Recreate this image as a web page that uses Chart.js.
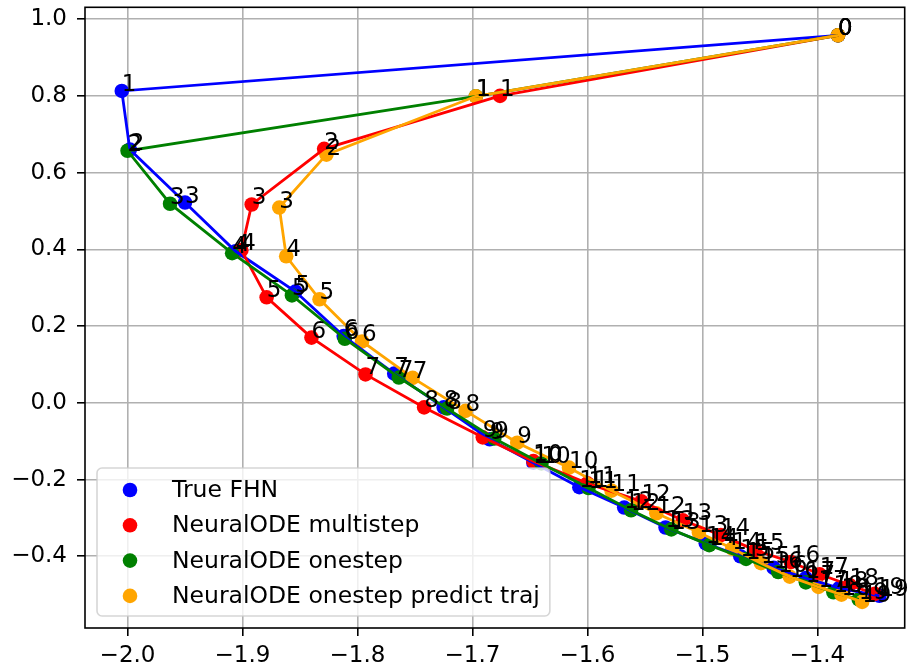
<!DOCTYPE html>
<html>
<head>
<meta charset="utf-8">
<script src="https://cdn.jsdelivr.net/npm/chart.js@4/dist/chart.umd.min.js"></script>
<style>
  html, body { margin: 0; padding: 0; background: #ffffff; }
  canvas { display: block; }
</style>
</head>
<body>
<canvas id="chart" width="912" height="671"></canvas>
<script>
// Series names and colours (legend order)
const seriesNames = ['True FHN', 'NeuralODE multistep', 'NeuralODE onestep', 'NeuralODE onestep predict traj'];
const seriesColors = ['#0000ff', '#ff0000', '#008000', '#ffa500'];

// True FitzHugh–Nagumo trajectory, steps 0..19
const trueX = [-1.382, -2.005, -1.998, -1.950, -1.906, -1.854, -1.812, -1.768, -1.725, -1.685,
               -1.647, -1.607, -1.568, -1.532, -1.497, -1.467, -1.438, -1.410, -1.381, -1.346];
const trueY = [0.958, 0.813, 0.660, 0.522, 0.395, 0.290, 0.174, 0.076, -0.012, -0.095,
               -0.156, -0.220, -0.273, -0.325, -0.366, -0.400, -0.430, -0.457, -0.483, -0.503];

// NeuralODE trained multistep
const multiX = [-1.382, -1.676, -1.829, -1.892, -1.901, -1.879, -1.840, -1.793, -1.742, -1.691,
                -1.647, -1.600, -1.553, -1.517, -1.484, -1.454, -1.423, -1.398, -1.372, -1.350];
const multiY = [0.958, 0.800, 0.662, 0.517, 0.398, 0.275, 0.170, 0.074, -0.012, -0.090,
                -0.152, -0.210, -0.257, -0.306, -0.345, -0.384, -0.415, -0.447, -0.475, -0.498];

// NeuralODE trained onestep
const oneX = [-1.382, -1.697, -2.000, -1.963, -1.909, -1.857, -1.811, -1.764, -1.722, -1.681,
              -1.640, -1.599, -1.562, -1.527, -1.494, -1.462, -1.434, -1.410, -1.386, -1.364];
const oneY = [0.958, 0.799, 0.657, 0.519, 0.390, 0.280, 0.167, 0.066, -0.015, -0.093,
              -0.158, -0.222, -0.280, -0.330, -0.371, -0.407, -0.441, -0.468, -0.494, -0.512];

// NeuralODE onestep, full predicted trajectory
const trajX = [-1.382, -1.697, -1.827, -1.868, -1.862, -1.833, -1.796, -1.752, -1.706, -1.661,
               -1.616, -1.579, -1.540, -1.503, -1.474, -1.449, -1.424, -1.399, -1.379, -1.361];
const trajY = [0.958, 0.799, 0.647, 0.509, 0.382, 0.270, 0.160, 0.065, -0.021, -0.104,
               -0.169, -0.229, -0.288, -0.338, -0.380, -0.418, -0.453, -0.480, -0.500, -0.519];

// Axis ticks and view limits
const xTicks = [-2.0, -1.9, -1.8, -1.7, -1.6, -1.5, -1.4];
const yTicks = [-0.4, -0.2, 0.0, 0.2, 0.4, 0.6, 0.8, 1.0];
const xLimits = [-2.037, -1.324];
const yLimits = [-0.587, 1.031];

const seriesX = [trueX, multiX, oneX, trajX];
const seriesY = [trueY, multiY, oneY, trajY];

const FONT = '"DejaVu Sans", "Liberation Sans", sans-serif';
const FONT_SIZE = 23;
const LEGEND_FONT_SIZE = 23.5;

const toPoints = (xs, ys) => xs.map((x, i) => ({ x: x, y: ys[i] }));
const fmtTick = v => (v < -1e-9 ? '\u2212' : '') + Math.abs(v).toFixed(1);

const datasets = [];
// markers first (under all lines)
seriesNames.forEach((name, k) => {
  datasets.push({
    label: name,
    data: toPoints(seriesX[k], seriesY[k]),
    showLine: false,
    pointRadius: 7.3,
    pointHoverRadius: 7.3,
    pointBackgroundColor: seriesColors[k],
    pointBorderWidth: 0,
    order: 10 - k
  });
});
// connecting lines
seriesNames.forEach((name, k) => {
  datasets.push({
    label: name + ' line',
    data: toPoints(seriesX[k], seriesY[k]),
    showLine: true,
    pointRadius: 0,
    pointHoverRadius: 0,
    borderColor: seriesColors[k],
    borderWidth: 2.8,
    fill: false,
    tension: 0,
    order: 4 - k
  });
});

// Frame around the plotting area
const frame = {
  id: 'frame',
  afterDatasetsDraw(chart) {
    const { ctx, chartArea: a } = chart;
    ctx.save();
    ctx.strokeStyle = '#000';
    ctx.lineWidth = 1.6;
    ctx.strokeRect(a.left, a.top, a.right - a.left, a.bottom - a.top);
    ctx.restore();
  }
};

// Step index written next to every marker
const stepLabels = {
  id: 'stepLabels',
  afterDatasetsDraw(chart) {
    const ctx = chart.ctx;
    ctx.save();
    ctx.font = FONT_SIZE + 'px ' + FONT;
    ctx.fillStyle = '#000';
    ctx.textAlign = 'left';
    ctx.textBaseline = 'alphabetic';
    seriesNames.forEach((_, k) => {
      const meta = chart.getDatasetMeta(k);
      meta.data.forEach((pt, i) => ctx.fillText(String(i), pt.x, pt.y));
    });
    ctx.restore();
  }
};

// Legend box in the lower-left corner of the plotting area
const cornerLegend = {
  id: 'cornerLegend',
  afterDraw(chart) {
    const { ctx, chartArea: a } = chart;
    ctx.save();
    ctx.font = LEGEND_FONT_SIZE + 'px ' + FONT;
    const textW = Math.max(...seriesNames.map(n => ctx.measureText(n).width));
    const x0 = a.left + 12;
    const h = 148;
    const y0 = a.bottom - 12 - h;
    const textX = x0 + 75;
    const w = (textX - x0) + textW + 10;
    ctx.beginPath();
    ctx.roundRect(x0, y0, w, h, 5);
    ctx.fillStyle = 'rgba(255,255,255,0.8)';
    ctx.fill();
    ctx.strokeStyle = 'rgba(204,204,204,0.8)';
    ctx.lineWidth = 1.6;
    ctx.stroke();
    seriesNames.forEach((name, k) => {
      const cy = y0 + 22 + k * 35.3;
      ctx.beginPath();
      ctx.arc(x0 + 33, cy, 7.3, 0, Math.PI * 2);
      ctx.fillStyle = seriesColors[k];
      ctx.fill();
      ctx.fillStyle = '#000';
      ctx.textAlign = 'left';
      ctx.textBaseline = 'middle';
      ctx.fillText(name, textX, cy + 1);
    });
    ctx.restore();
  }
};

const axisCommon = {
  type: 'linear',
  grid: { color: '#b0b0b0', lineWidth: 1.6, tickColor: '#000', tickWidth: 1.6, tickLength: 8, drawTicks: true },
  border: { display: false },
  ticks: { color: '#000', font: { family: FONT, size: FONT_SIZE }, autoSkip: false, maxRotation: 0, callback: fmtTick }
};

new Chart(document.getElementById('chart'), {
  type: 'scatter',
  data: { datasets: datasets },
  options: {
    responsive: false,
    animation: false,
    devicePixelRatio: 1,
    events: [],
    layout: { padding: { top: 5, right: 2, left: 0, bottom: 0 } },
    plugins: { legend: { display: false }, tooltip: { enabled: false } },
    scales: {
      x: Object.assign({}, axisCommon, {
        min: xLimits[0], max: xLimits[1],
        ticks: Object.assign({}, axisCommon.ticks, { padding: 6 }),
        afterBuildTicks: sc => { sc.ticks = xTicks.map(v => ({ value: v })); },
        afterFit: sc => { sc.height = 43; sc.paddingLeft = 0; sc.paddingRight = 0; }
      }),
      y: Object.assign({}, axisCommon, {
        min: yLimits[0], max: yLimits[1],
        ticks: Object.assign({}, axisCommon.ticks, { padding: 10 }),
        afterBuildTicks: sc => { sc.ticks = yTicks.map(v => ({ value: v })); },
        afterFit: sc => { sc.width = 85; sc.paddingTop = 0; sc.paddingBottom = 0; }
      })
    }
  },
  plugins: [frame, stepLabels, cornerLegend]
});
</script>
</body>
</html>
